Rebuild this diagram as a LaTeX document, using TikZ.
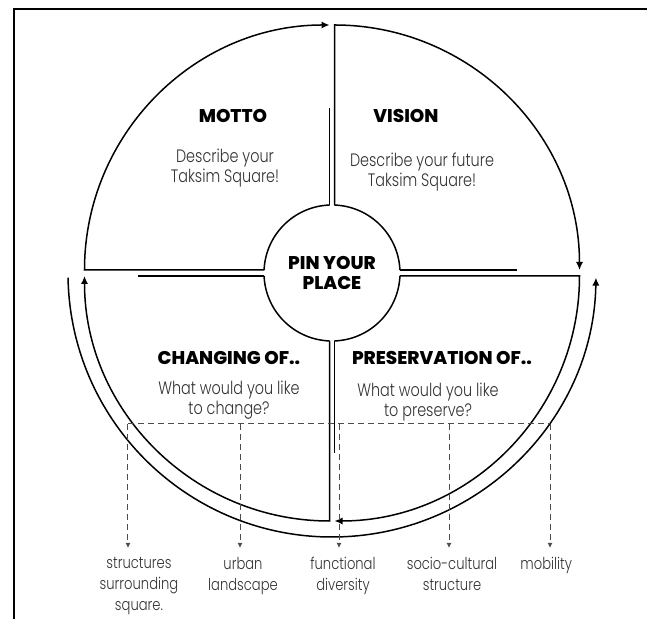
\documentclass[tikz,border=0pt]{standalone}
\usepackage{fontspec}
\setmainfont{Poppins}
\IfFontExistsTF{Poppins Light}
  {\newfontfamily\thinfont{Poppins Light}[FakeStretch=0.8]}
  {\newfontfamily\thinfont{Poppins}[FakeStretch=0.8]}
\IfFontExistsTF{Poppins ExtraBold}
  {\newfontfamily\heavyfont{Poppins ExtraBold}}
  {\newfontfamily\heavyfont{Poppins}[UprightFont=*-Bold]}
\usetikzlibrary{arrows.meta}

\begin{document}
\begin{tikzpicture}[x=0.5pt,y=0.5pt,
  rim/.style={line width=0.75pt},
  head/.style={font=\heavyfont\fontsize{9.2}{10}\selectfont},
  ask/.style={align=center,text=black!80,font=\thinfont\fontsize{9}{10}\selectfont},
  tag/.style={align=center,anchor=north,inner sep=0pt,text=black!80,
    font=\thinfont\fontsize{8.2}{10.5}\selectfont},
  turn/.style={-{Latex[length=4pt,width=3.6pt]}},
  hint/.style={densely dashed,black!70,line width=0.5pt},
  drop/.style={hint,-{Latex[length=2.6pt,width=2.6pt]}}]
  \useasboundingbox (-332,-346) rectangle (315,273);

  % Page frame
  \draw[line width=1pt] (-318,-346) -- (-318,264) -- (315,264);

  % Centre disc, left open where the dividers meet it
  \foreach \a/\b in {2.5/87.9,92.1/177.5,182.5/267.9,272.1/357.5}
    \draw[rim] (\a:68) arc[start angle=\a,end angle=\b,radius=68];

  % Quarters, each running clockwise into the next
  \draw[rim] (-2.5,165) -- (-2.5,67.95);
  \draw[rim,turn] (-67.9,3) -- (-247.5,3) arc[start angle=180,end angle=90,radius=245];
  \draw[rim,turn] (2.5,67.95) -- (2.5,248) arc[start angle=90,end angle=0,radius=245];
  \draw[rim] (67.9,3) -- (185,3);
  \draw[rim,turn] (67.9,-3) -- (247.5,-3) arc[start angle=0,end angle=-90,radius=245];
  \draw[rim] (2.5,-67.95) -- (2.5,-180);
  \draw[rim,turn] (-2.5,-67.95) -- (-2.5,-248) arc[start angle=-90,end angle=-180,radius=245];
  \draw[rim] (-67.9,-3) -- (-194,-3);

  % Outer return arc
  \draw[rim,turn] (181:264) arc[start angle=181,end angle=359,radius=264];

  % Headings and questions
  \node[head] (motto) at (-99,157) {MOTTO};
  \node[ask] (mottoq) at (-107,105) {Describe your\\Taksim Square!};
  \node[head] (vision) at (74,157) {VISION};
  \node[ask] (visionq) at (90,101) {Describe your future\\Taksim Square!};
  \node[head,align=center] (pin) at (0,0) {PIN YOUR\\PLACE};
  \node[head] (change) at (-103,-85) {CHANGING OF..};
  \node[ask] (changeq) at (-103,-127) {What would you like\\to change?};
  \node[head] (keep) at (110,-85) {PRESERVATION OF..};
  \node[ask] (keepq) at (96,-129) {What would you like\\to preserve?};

  % Topic bar and drop arrows
  \coordinate (barL) at (-204,-151);
  \coordinate (barR) at (218,-151);
  \draw[hint] (barL) -- (barR);
  \foreach \x/\lx/\name/\txt in {
    -204/-193/struct/{structures\\surrounding\\square.},
    -92/-89/urban/{urban\\landscape},
    7/11/func/{functional\\diversity},
    117/120/socio/{socio-cultural\\structure},
    218/216/mob/{mobility}
  }{
    \node[tag] (\name) at (\lx,-284) {\txt};
    \coordinate (\name-tip) at (\x,-275);
    \draw[drop] (\name-tip |- barL) -- (\name-tip);
  }
\end{tikzpicture}
\end{document}
